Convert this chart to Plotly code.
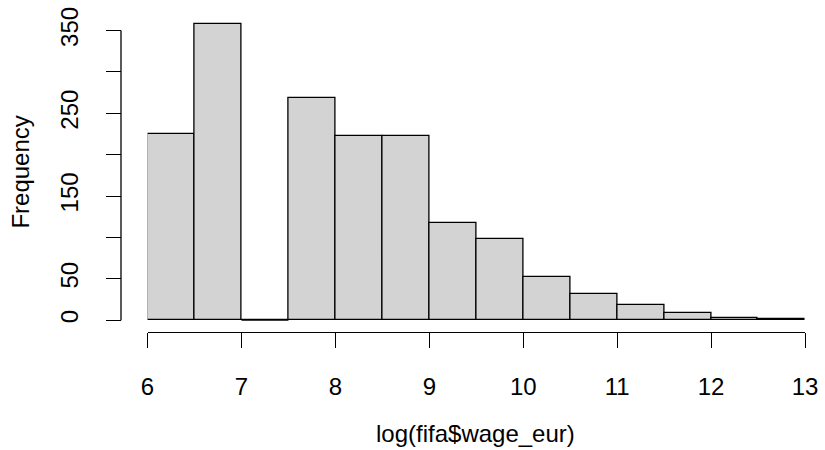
import plotly.graph_objects as go

# Histogram bins (log(fifa$wage_eur)) and counts
bin_left = [6.0, 6.5, 7.0, 7.5, 8.0, 8.5, 9.0, 9.5, 10.0, 10.5, 11.0, 11.5, 12.0, 12.5]
bin_width = 0.5
counts = [225, 358, 0, 269, 222, 222, 117, 98, 52, 32, 18, 9, 2, 1]

x_ticks = [6, 7, 8, 9, 10, 11, 12, 13]
y_ticks = [0, 50, 100, 150, 200, 250, 300, 350]
y_tick_text = ["0", "50", "", "150", "", "250", "", "350"]

FONT = "Liberation Sans, Arial, Helvetica, sans-serif"
FS = 24
LW = 1.3

mids = [b + bin_width / 2 for b in bin_left]

fig = go.Figure()
fig.add_trace(go.Bar(
    x=mids, y=counts, width=[bin_width] * len(mids),
    marker=dict(color="#D3D3D3", line=dict(color="black", width=LW)),
    hoverinfo="x+y", showlegend=False,
))

# zero-count bins drawn as a flat outline at 0 (like R)
zx, zy = [], []
for b, c in zip(bin_left, counts):
    if c == 0:
        zx += [b, b + bin_width, None]
        zy += [0, 0, None]
fig.add_trace(go.Scatter(x=zx, y=zy, mode="lines",
                         line=dict(color="black", width=LW),
                         hoverinfo="skip", showlegend=False))

ymax = max(counts)
ypad = 0.04 * ymax

L, R, T, B = 121, 16, 7, 118
W, H = 825, 450
plot_w = W - L - R
x_start_px = 147.7
xdom0 = (x_start_px - L) / plot_w

fig.update_layout(
    width=W, height=H,
    margin=dict(l=L, r=R, t=T, b=B, pad=0),
    paper_bgcolor="white", plot_bgcolor="white",
    bargap=0,
    font=dict(family=FONT, size=FS, color="black"),
    xaxis=dict(
        domain=[xdom0, 1], range=[min(x_ticks), max(x_ticks)],
        tickvals=x_ticks, ticktext=[str(t) for t in x_ticks],
        ticks="outside", ticklen=15, tickwidth=LW, tickcolor="black",
        showline=True, linecolor="black", linewidth=LW,
        showgrid=False, zeroline=False,
        ticklabelstandoff=18,
        tickfont=dict(family=FONT, size=FS, color="black"),
    ),
    yaxis=dict(
        domain=[0, 1], range=[-ypad, ymax + ypad],
        anchor="free", position=0,
        tickvals=y_ticks, ticktext=y_tick_text,
        ticks="outside", ticklen=15, tickwidth=LW, tickcolor="black",
        tickangle=-90,
        showline=False, showgrid=False, zeroline=False,
        ticklabelstandoff=18,
        tickfont=dict(family=FONT, size=FS, color="black"),
    ),
    shapes=[dict(type="line", xref="paper", yref="y",
                 x0=0, x1=0, y0=min(y_ticks), y1=max(y_ticks),
                 line=dict(color="black", width=LW))],
    annotations=[
        dict(text="log(fifa$wage_eur)", xref="paper", yref="paper",
             x=(478 - L) / plot_w, y=-(435 - (H - B)) / (H - T - B),
             xanchor="center", yanchor="middle", showarrow=False,
             font=dict(family=FONT, size=FS, color="black")),
        dict(text="Frequency", xref="paper", yref="paper",
             x=-(L - 19) / plot_w, y=0.5, textangle=-90,
             xanchor="center", yanchor="middle", showarrow=False,
             font=dict(family=FONT, size=FS, color="black")),
    ],
)

fig.write_html("out.html",
               config={"displayModeBar": False},
               post_script="document.body.style.margin='0';document.body.style.padding='0';")
